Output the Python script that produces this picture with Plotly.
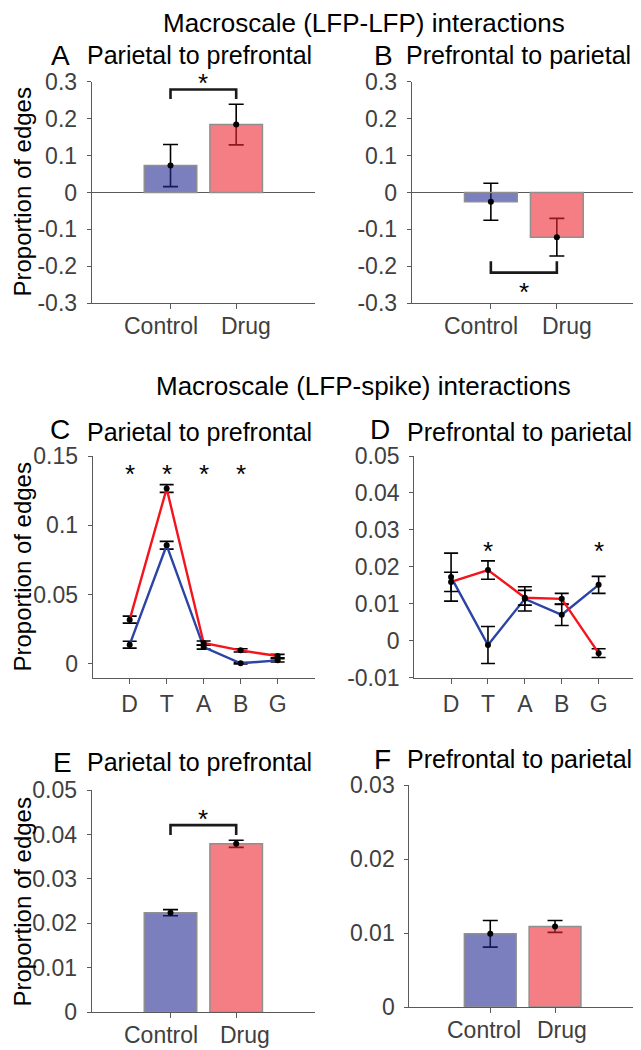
import plotly.graph_objects as go

# ---------------- data ----------------
groups = ["Control", "Drug"]
group_pos = [1, 2]
bands = ["D", "T", "A", "B", "G"]
band_pos = [1, 2, 3, 4, 5]

# A: LFP-LFP parietal -> prefrontal
lfp_p2f_mean = [0.073, 0.184]
lfp_p2f_err = [0.057, 0.055]
# B: LFP-LFP prefrontal -> parietal
lfp_f2p_mean = [-0.025, -0.121]
lfp_f2p_err = [0.050, 0.051]

# C: LFP-spike parietal -> prefrontal per band
spk_p2f_control = [0.0137, 0.0855, 0.0120, 0.0003, 0.0024]
spk_p2f_control_err = [0.0025, 0.0028, 0.0015, 0.0005, 0.0012]
spk_p2f_drug = [0.0318, 0.1265, 0.0149, 0.0096, 0.0055]
spk_p2f_drug_err = [0.0025, 0.0028, 0.0015, 0.0012, 0.0012]

# D: LFP-spike prefrontal -> parietal per band
spk_f2p_control = [0.0172, -0.0012, 0.0113, 0.0070, 0.0151]
spk_f2p_control_err = [0.0065, 0.0050, 0.0033, 0.0029, 0.0023]
spk_f2p_drug = [0.0159, 0.0191, 0.0116, 0.0113, -0.0034]
spk_f2p_drug_err = [0.0026, 0.0025, 0.0020, 0.0015, 0.0012]

# E / F: LFP-spike totals
spk_tot_p2f_mean = [0.0224, 0.0379]
spk_tot_p2f_err = [0.0007, 0.0008]
spk_tot_f2p_mean = [0.0099, 0.0109]
spk_tot_f2p_err = [0.0018, 0.0008]

# significance markers (bracket heights; star heights for line panels)
sig_A = {"top": 0.279, "leg": 0.253}
sig_B = {"top": -0.217, "leg": -0.186}
sig_E = {"top": 0.0421, "leg": 0.0399}
sig_C_bands = [1, 2, 3, 4]
sig_C_star = 0.1414
sig_D_bands = [2, 5]
sig_D_star = 0.0259

# tick labels
yt_AB = [-0.3, -0.2, -0.1, 0, 0.1, 0.2, 0.3]
yl_AB = ["-0.3", "-0.2", "-0.1", "0", "0.1", "0.2", "0.3"]
yt_C = [0, 0.05, 0.1, 0.15]
yl_C = ["0", "0.05", "0.1", "0.15"]
yt_D = [-0.01, 0, 0.01, 0.02, 0.03, 0.04, 0.05]
yl_D = ["-0.01", "0", "0.01", "0.02", "0.03", "0.04", "0.05"]
yt_E = [0, 0.01, 0.02, 0.03, 0.04, 0.05]
yl_E = ["0", "0.01", "0.02", "0.03", "0.04", "0.05"]
yt_F = [0, 0.01, 0.02, 0.03]
yl_F = ["0", "0.01", "0.02", "0.03"]

# ---------------- style ----------------
# the page body has an 8px margin; the figure starts at (8, 8) and reaches the window's right/bottom edge
OFF = 8
W, H = 641 - OFF, 1050 - OFF
FONT = "Liberation Sans, Arial, Helvetica, sans-serif"
AXC = "#5a5a5a"
TICKC = "#404040"
BAR_FILL = ["rgba(35,42,147,0.6)", "rgba(237,40,48,0.6)"]
LINE_BLUE = "#2b44a6"
LINE_RED = "#f5141c"
TICK_FS = 23

def xd(a, b):
    return [(a - OFF) / W, (b - OFF) / W]

def yd(top, bottom):
    return [max(0, 1 - (bottom - OFF) / H), 1 - (top - OFF) / H]

panels = {
    "A": (xd(91.7, 315), yd(81.7, 303.3)),
    "B": (xd(411.7, 636), yd(81.7, 303.3)),
    "C": (xd(92.7, 314.6), yd(456, 677.5)),
    "D": (xd(414.2, 635.5), yd(456, 677.5)),
    "E": (xd(91.7, 315), yd(790, 1012.3)),
    "F": (xd(409.3, 636), yd(785.3, 1007)),
}
order = ["A", "B", "C", "D", "E", "F"]
axid = {k: ("" if i == 0 else str(i + 1)) for i, k in enumerate(order)}
bar_panels = ["A", "B", "E", "F"]

fig = go.Figure()

def bar_panel(p, means, errs):
    xa = "x" + axid[p]
    ya = "y" + axid[p]
    # black error bars underneath, tinted where the translucent bar covers them
    fig.add_trace(go.Bar(
        x=group_pos, y=means, width=0.8, xaxis=xa, yaxis=ya,
        marker=dict(color="rgba(0,0,0,0)", line=dict(width=0)),
        error_y=dict(type="data", array=errs, color="black", thickness=1.6, width=7.5),
        showlegend=False, hoverinfo="skip"))
    fig.add_trace(go.Bar(
        x=group_pos, y=means, width=0.8, xaxis=xa, yaxis=ya,
        marker=dict(color=BAR_FILL, line=dict(color="#8f8f8f", width=1.5)),
        showlegend=False))
    fig.add_trace(go.Scatter(
        x=group_pos, y=means, mode="markers", xaxis=xa, yaxis=ya,
        marker=dict(color="black", size=6), showlegend=False, hoverinfo="skip"))

def line_panel(p, c, ce, d, de):
    xa = "x" + axid[p]
    ya = "y" + axid[p]
    for vals, errs, col in ((c, ce, LINE_BLUE), (d, de, LINE_RED)):
        fig.add_trace(go.Scatter(
            x=band_pos, y=vals, mode="lines+markers", xaxis=xa, yaxis=ya,
            line=dict(color=col, width=2.4),
            marker=dict(color="black", size=6),
            error_y=dict(type="data", array=errs, color="black", thickness=1.6, width=7),
            showlegend=False))

def bracket(p, sig):
    xa = "x" + axid[p]
    ya = "y" + axid[p]
    fig.add_trace(go.Scatter(
        x=[group_pos[0], group_pos[0], group_pos[1], group_pos[1]],
        y=[sig["leg"], sig["top"], sig["top"], sig["leg"]],
        mode="lines", xaxis=xa, yaxis=ya, cliponaxis=False,
        line=dict(color="#1a1a1a", width=2.6), showlegend=False, hoverinfo="skip"))

bar_panel("A", lfp_p2f_mean, lfp_p2f_err)
bar_panel("B", lfp_f2p_mean, lfp_f2p_err)
line_panel("C", spk_p2f_control, spk_p2f_control_err, spk_p2f_drug, spk_p2f_drug_err)
line_panel("D", spk_f2p_control, spk_f2p_control_err, spk_f2p_drug, spk_f2p_drug_err)
bar_panel("E", spk_tot_p2f_mean, spk_tot_p2f_err)
bar_panel("F", spk_tot_f2p_mean, spk_tot_f2p_err)
bracket("A", sig_A)
bracket("B", sig_B)
bracket("E", sig_E)

layout = dict(
    width=W, height=H, margin=dict(l=0, r=0, t=0, b=0, autoexpand=False),
    paper_bgcolor="white", plot_bgcolor="white",
    barmode="overlay", font=dict(family=FONT, color="black"),
    showlegend=False,
)

def xaxis_cfg(p, rng, tv, tt):
    return dict(domain=panels[p][0], range=rng, anchor="y" + axid[p],
                tickvals=tv, ticktext=tt, showticklabels=p not in bar_panels,
                showline=True, linecolor=AXC, linewidth=1,
                ticks="outside", ticklen=5, tickcolor=AXC, tickwidth=1,
                showgrid=False, zeroline=False, ticklabelstandoff=1,
                tickfont=dict(size=TICK_FS, color=TICKC, family=FONT), fixedrange=True)

def yaxis_cfg(p, rng, tv, tt, zl=False):
    return dict(domain=panels[p][1], range=rng, anchor="x" + axid[p],
                tickvals=tv, ticktext=tt, showline=True, linecolor=AXC, linewidth=1,
                ticks="outside", ticklen=4, tickcolor=AXC, tickwidth=1,
                showgrid=False, zeroline=zl, zerolinecolor=AXC, zerolinewidth=1,
                ticklabelstandoff=5,
                tickfont=dict(size=TICK_FS, color=TICKC, family=FONT), fixedrange=True)

ranges = {
    "A": ([-0.2, 3.2], [-0.3, 0.3], yt_AB, yl_AB, True, group_pos, groups),
    "B": ([-0.2, 3.2], [-0.3, 0.3], yt_AB, yl_AB, True, group_pos, groups),
    "C": ([0, 6], [-0.01, 0.15], yt_C, yl_C, False, band_pos, bands),
    "D": ([0, 6], [-0.01, 0.05], yt_D, yl_D, False, band_pos, bands),
    "E": ([-0.2, 3.2], [0, 0.05], yt_E, yl_E, False, group_pos, groups),
    "F": ([-0.25, 3.25], [0, 0.03], yt_F, yl_F, False, group_pos, groups),
}
for p in order:
    xr, yr, tv, tt, zl, xv, xt = ranges[p]
    layout["xaxis" + axid[p]] = xaxis_cfg(p, xr, xv, xt)
    layout["yaxis" + axid[p]] = yaxis_cfg(p, yr, tv, tt, zl)

fig.update_layout(**layout)

ann = []
def paper_text(text, xpx, ypx, size, xanchor="center", angle=0):
    ann.append(dict(text=text, x=(xpx - OFF) / W, y=1 - (ypx - OFF) / H,
                    xref="paper", yref="paper",
                    xanchor=xanchor, yanchor="middle", showarrow=False, textangle=angle,
                    font=dict(size=size, color="black", family=FONT)))

paper_text("Macroscale (LFP-LFP) interactions", 364, 23, 26)
paper_text("Macroscale (LFP-spike) interactions", 363, 386, 26)

titles = {
    # panel: (title, letter x, title x, title y, letter y)
    "A": ("Parietal to prefrontal", 60, 85, 55, 55),
    "B": ("Prefrontal to parietal", 383, 404, 55, 55),
    "C": ("Parietal to prefrontal", 60, 85, 432, 429),
    "D": ("Prefrontal to parietal", 380, 405, 432, 429),
    "E": ("Parietal to prefrontal", 62, 85, 762, 762),
    "F": ("Prefrontal to parietal", 382, 405, 759, 759),
}
for p, (t, lx, tx, ty, ly) in titles.items():
    paper_text(p, lx, ly, 28)
    paper_text(t, tx, ty, 25, xanchor="left")

for ycen in (192, 567, 902):
    paper_text("Proportion of edges", 21.5, ycen, 24, angle=-90)

# category labels under the bar panels (slightly spread apart as in the original)
label_shift = {"A": (-10, 10), "B": (-10, 10), "E": (-10, 9), "F": (-6, 7)}
for p in bar_panels:
    for gx, gname, sh in zip(group_pos, groups, label_shift[p]):
        ann.append(dict(text=gname, x=gx, y=0, xref="x" + axid[p], yref="y" + axid[p] + " domain",
                        xanchor="center", yanchor="middle", xshift=sh, yshift=-23,
                        showarrow=False, font=dict(size=TICK_FS, color=TICKC, family=FONT)))

def star(p, x, y, shift):
    ann.append(dict(text="*", x=x, y=y, xref="x" + axid[p], yref="y" + axid[p],
                    showarrow=False, yanchor="middle", yshift=shift,
                    font=dict(size=26, color="black", family=FONT)))

mid = sum(group_pos) / 2
star("A", mid, sig_A["top"], 6)
star("B", mid, sig_B["top"], -19)
star("E", mid, sig_E["top"], 6)
for b in sig_C_bands:
    star("C", b, sig_C_star, -6)
for b in sig_D_bands:
    star("D", b, sig_D_star, -6)

fig.update_layout(annotations=ann)
fig.write_html("out.html")
